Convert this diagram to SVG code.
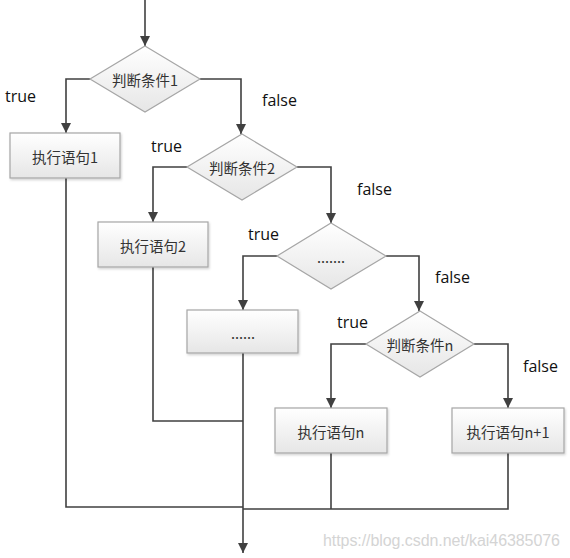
<svg xmlns="http://www.w3.org/2000/svg" width="570" height="558" viewBox="0 0 570 558">
<style>
.ln{fill:none;stroke:#404040;stroke-width:1.6}
.shape{fill:url(#g);stroke:#a6a6a6;stroke-width:1.2}
.nt{font-family:"Noto Sans CJK SC","Noto Sans",sans-serif;font-size:14.5px;fill:#333;text-anchor:middle;dominant-baseline:central}
.lb{font-family:"Open Sans","Liberation Sans",sans-serif;font-size:16px;fill:#111}
.wm{font-family:"Liberation Sans",Arial,sans-serif;font-size:16px;fill:#d4d4d4}
</style>
<defs>
<linearGradient id="g" x1="0" y1="0" x2="0" y2="1">
<stop offset="0" stop-color="#ffffff"/>
<stop offset="1" stop-color="#e6e6e6"/>
</linearGradient>
<marker id="ah" viewBox="0 0 10 10" refX="10" refY="5" markerWidth="10" markerHeight="10" markerUnits="userSpaceOnUse" orient="auto">
<path d="M0,0 L10,5 L0,10 z" fill="#404040"/>
</marker>
<filter id="sh" x="-10%" y="-10%" width="130%" height="140%">
<feDropShadow dx="1" dy="1.5" stdDeviation="1" flood-color="#000" flood-opacity="0.18"/>
</filter>
</defs>
<g id="connectors">
<path class="ln" d="M145,0 V46" marker-end="url(#ah)"/>
<path class="ln" d="M90,79 H66 V133" marker-end="url(#ah)"/>
<path class="ln" d="M200,79 H241 V134" marker-end="url(#ah)"/>
<path class="ln" d="M187,167 H153 V222" marker-end="url(#ah)"/>
<path class="ln" d="M297,167 H331 V223" marker-end="url(#ah)"/>
<path class="ln" d="M277,256 H243 V310" marker-end="url(#ah)"/>
<path class="ln" d="M386,256 H419 V311" marker-end="url(#ah)"/>
<path class="ln" d="M366,344 H331 V408" marker-end="url(#ah)"/>
<path class="ln" d="M474,344 H508 V408" marker-end="url(#ah)"/>
<path class="ln" d="M66,178 V507 H243"/>
<path class="ln" d="M153,267 V421 H243"/>
<path class="ln" d="M331,453 V509"/>
<path class="ln" d="M508,453 V509 H243"/>
<path class="ln" d="M243,353 V553" marker-end="url(#ah)"/>
</g>
<g id="cond1">
<polygon class="shape" points="145,46 200,79 145,112 90,79"/>
<text class="nt" x="145" y="79">判断条件1</text>
</g>
<g id="stmt1">
<rect class="shape" filter="url(#sh)" x="10" y="133" width="110" height="45"/>
<text class="nt" x="65" y="156">执行语句1</text>
</g>
<g id="cond2">
<polygon class="shape" points="242,134 297,167 242,200 187,167"/>
<text class="nt" x="242" y="167">判断条件2</text>
</g>
<g id="stmt2">
<rect class="shape" filter="url(#sh)" x="98" y="222" width="110" height="45"/>
<text class="nt" x="153" y="245">执行语句2</text>
</g>
<g id="cond3">
<polygon class="shape" points="331,223 386,256 331,289 277,256"/>
<text class="nt" x="331" y="256">.......</text>
</g>
<g id="stmt3">
<rect class="shape" filter="url(#sh)" x="187" y="310" width="111" height="43"/>
<text class="nt" x="243" y="332">......</text>
</g>
<g id="condn">
<polygon class="shape" points="420,311 474,344 420,377 366,344"/>
<text class="nt" x="420" y="344">判断条件n</text>
</g>
<g id="stmtn">
<rect class="shape" filter="url(#sh)" x="275" y="408" width="112" height="45"/>
<text class="nt" x="331" y="431">执行语句n</text>
</g>
<g id="stmtn1">
<rect class="shape" filter="url(#sh)" x="452" y="408" width="112" height="45"/>
<text class="nt" x="508" y="431">执行语句n+1</text>
</g>
<g id="labels">
<text class="lb" x="5" y="102">true</text>
<text class="lb" x="262" y="106">false</text>
<text class="lb" x="151" y="152">true</text>
<text class="lb" x="357" y="195">false</text>
<text class="lb" x="248" y="240">true</text>
<text class="lb" x="435" y="283">false</text>
<text class="lb" x="337" y="328">true</text>
<text class="lb" x="523" y="372">false</text>
<text class="wm" x="323" y="546" textLength="237">https://blog.csdn.net/kai46385076</text>
</g>
</svg>
